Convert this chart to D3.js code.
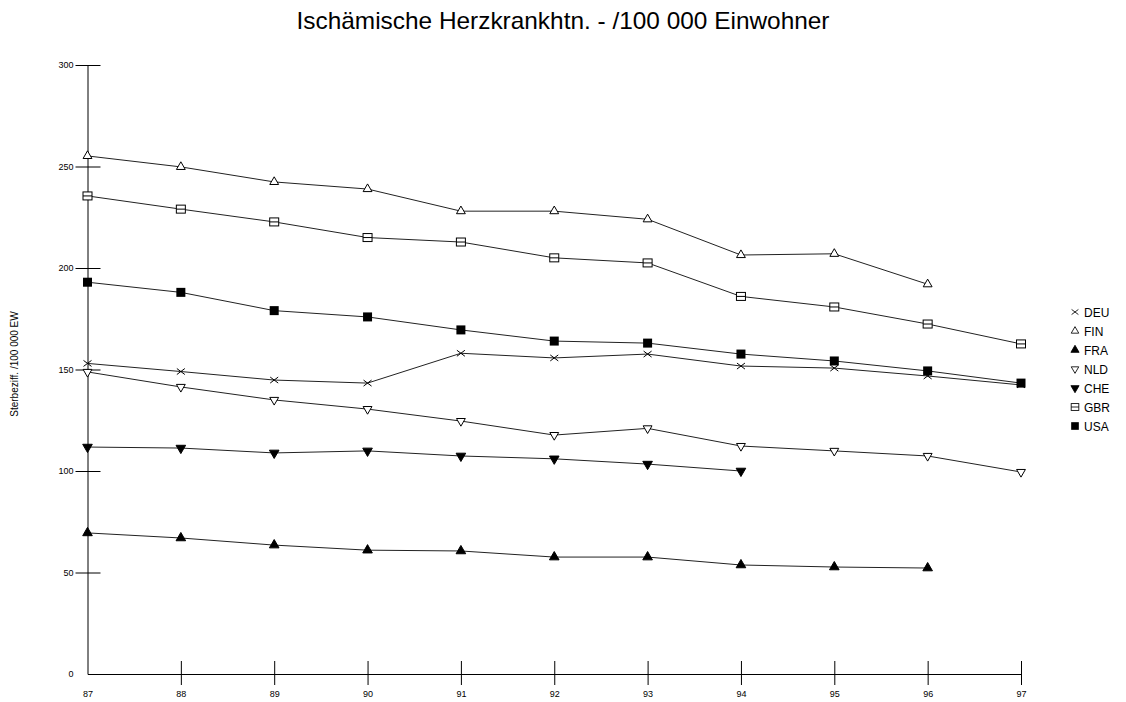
<!DOCTYPE html>
<html>
<head>
<meta charset="utf-8">
<script src="https://cdn.jsdelivr.net/npm/d3@7"></script>
<style>
  body { margin: 0; background: #fff; }
  text { font-family: "Liberation Sans", Arial, sans-serif; fill: #000; }
</style>
</head>
<body>
<div id="chart"></div>
<script>
const years = [87, 88, 89, 90, 91, 92, 93, 94, 95, 96, 97];
const yTicks = [0, 50, 100, 150, 200, 250, 300];

const DEU = [153, 149, 144.8, 143.3, 158, 155.7, 157.6, 151.7, 150.7, 146.8, 142.4];
const FIN = [255.2, 249.8, 242.4, 238.9, 228, 228, 224, 206.4, 207, 192, null];
const FRA = [69.5, 67, 63.5, 61, 60.6, 57.6, 57.6, 53.7, 52.7, 52.2, null];
const NLD = [148.8, 141.4, 135, 130.5, 124.6, 117.7, 121, 112.3, 109.9, 107.4, 99.5];
const CHE = [111.8, 111.3, 108.9, 109.9, 107.4, 106, 103.4, 100, null, null, null];
const GBR = [235.5, 229, 222.7, 215, 212.8, 205, 202.5, 186, 180.8, 172.4, 162.6];
const USA = [193, 188, 179, 175.9, 169.5, 164, 163, 157.6, 154.2, 149.3, 143.3];

const series = [
  { name: "DEU", values: DEU, marker: "cross" },
  { name: "FIN", values: FIN, marker: "triUpOpen" },
  { name: "FRA", values: FRA, marker: "triUpFill" },
  { name: "NLD", values: NLD, marker: "triDownOpen" },
  { name: "CHE", values: CHE, marker: "triDownFill" },
  { name: "GBR", values: GBR, marker: "squareOpen" },
  { name: "USA", values: USA, marker: "squareFill" }
];

const width = 1126;
const height = 702;
const margin = { top: 65, left: 87.5, bottom: 28, right: 105 };
const iwidth = width - margin.left - margin.right;
const iheight = height - margin.top - margin.bottom;

const svg = d3.select("#chart").append("svg")
  .attr("width", width)
  .attr("height", height);

svg.append("text")
  .attr("x", 563)
  .attr("y", 29)
  .attr("text-anchor", "middle")
  .style("font-size", "24px")
  .attr("textLength", 533)
  .attr("lengthAdjust", "spacingAndGlyphs")
  .text("Ischämische Herzkrankhtn. - /100 000 Einwohner");

svg.append("text")
  .attr("transform", "translate(18,364) rotate(-90)")
  .attr("text-anchor", "middle")
  .style("font-size", "10px")
  .text("Sterbeziff. /100 000 EW");

const g = svg.append("g")
  .attr("transform", `translate(${margin.left},${margin.top})`);

const x = d3.scaleLinear().domain([87, 97]).range([0, iwidth]);
const y = d3.scaleLinear().domain([0, 300]).range([iheight, 0]);

// y axis with ticks crossing the line
const yAxis = g.append("g").classed("y--axis", true)
  .call(d3.axisLeft(y).tickValues(yTicks).tickSizeOuter(0));
yAxis.select(".domain").attr("stroke", "#000");
yAxis.selectAll(".tick line").attr("x1", -12).attr("x2", 13)
  .attr("stroke", "#000")
  .attr("display", d => d === 0 ? "none" : null);
yAxis.selectAll(".tick text").attr("x", -14)
  .style("font-size", "9px").style("font-family", "Liberation Sans, Arial, sans-serif");

// x axis
const xAxis = g.append("g").classed("x--axis", true)
  .attr("transform", `translate(0,${iheight})`)
  .call(d3.axisBottom(x).tickValues(years).tickFormat(d3.format("d")).tickSizeOuter(0));
xAxis.select(".domain").attr("stroke", "#000");
xAxis.selectAll(".tick line").attr("y1", -13).attr("y2", 11)
  .attr("stroke", "#000")
  .attr("display", d => d === 87 ? "none" : null);
xAxis.selectAll(".tick text").attr("y", 17)
  .style("font-size", "9px").style("font-family", "Liberation Sans, Arial, sans-serif");
yAxis.raise();

function drawMarker(sel, type) {
  const tri = d3.symbol().type(d3.symbolTriangle).size(34)();
  const triF = d3.symbol().type(d3.symbolTriangle).size(40)();
  if (type === "cross") {
    sel.append("path").attr("d", "M-4,-3L4,3M-4,3L4,-3")
      .attr("stroke", "#000").attr("fill", "none");
  } else if (type === "triUpOpen") {
    sel.append("path").attr("d", tri).attr("fill", "#fff").attr("stroke", "#000");
  } else if (type === "triUpFill") {
    sel.append("path").attr("d", triF).attr("fill", "#000").attr("stroke", "#000");
  } else if (type === "triDownOpen") {
    sel.append("path").attr("d", tri).attr("transform", "rotate(180)")
      .attr("fill", "#fff").attr("stroke", "#000");
  } else if (type === "triDownFill") {
    sel.append("path").attr("d", triF).attr("transform", "rotate(180)")
      .attr("fill", "#000").attr("stroke", "#000");
  } else if (type === "squareOpen") {
    sel.append("rect").attr("x", -4.5).attr("y", -4).attr("width", 9).attr("height", 8)
      .attr("fill", "#fff").attr("stroke", "#000");
    sel.append("line").attr("x1", -4.5).attr("x2", 4.5).attr("y1", 0).attr("y2", 0)
      .attr("stroke", "#000");
  } else if (type === "squareFill") {
    sel.append("rect").attr("x", -4.5).attr("y", -4.5).attr("width", 9).attr("height", 9)
      .attr("fill", "#000");
  }
}

const line = d3.line()
  .defined(d => d.v != null)
  .x(d => x(d.year))
  .y(d => y(d.v));

series.forEach(s => {
  const pts = years.map((yr, i) => ({ year: yr, v: s.values[i] }));
  g.append("path")
    .datum(pts)
    .attr("fill", "none")
    .attr("stroke", "#222")
    .attr("stroke-width", 1)
    .attr("d", line);
});

series.forEach(s => {
  const pts = years.map((yr, i) => ({ year: yr, v: s.values[i] })).filter(d => d.v != null);
  g.selectAll(null).data(pts).enter().append("g")
    .attr("transform", d => `translate(${x(d.year)},${y(d.v)})`)
    .each(function () { drawMarker(d3.select(this), s.marker); });
});

// legend
const legend = svg.append("g").attr("transform", "translate(1075,312)");
series.forEach((s, i) => {
  const row = legend.append("g").attr("transform", `translate(0,${i * 19})`);
  const m = row.append("g").attr("transform", "scale(0.85)");
  drawMarker(m, s.marker);
  row.append("text").attr("x", 9).attr("y", 4.5)
    .style("font-size", "12px").text(s.name);
});
</script>
</body>
</html>
